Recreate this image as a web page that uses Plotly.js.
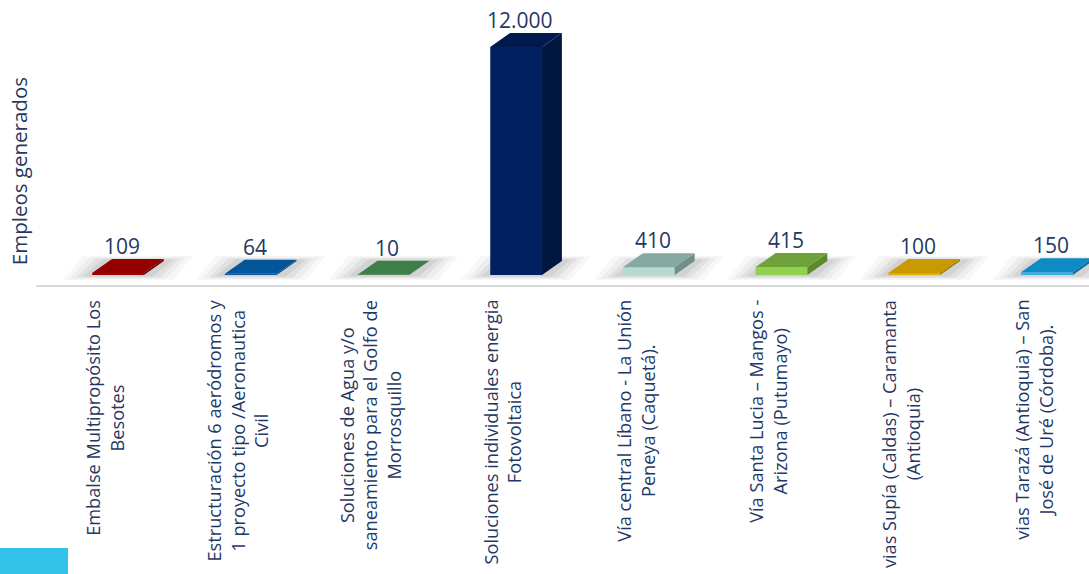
<!DOCTYPE html>
<html>
<head>
<meta charset="utf-8">
<script src="https://cdn.plot.ly/plotly-3.0.1.min.js"></script>
<style>html,body{margin:0;padding:0;background:#fff;}#chart{width:1089px;height:574px;}</style>
</head>
<body>
<div id="chart"></div>
<script>
// ---- data ----
const categories = [
  "Embalse Multipropósito Los<br>Besotes",
  "Estructuración 6 aeródromos y<br>1 proyecto tipo /Aeronautica<br>Civil",
  "Soluciones de Agua y/o<br>saneamiento para el Golfo de<br>Morrosquillo",
  "Soluciones individuales energia<br>Fotovoltaica",
  "Vía central Líbano - La Unión<br>Peneya (Caquetá).",
  "Vía Santa Lucia – Mangos -<br>Arizona (Putumayo)",
  "vias Supía (Caldas) – Caramanta<br>(Antioquia)",
  "vias Tarazá (Antioquia) – San<br>José de Uré (Córdoba)."
];
const empleos = [109, 64, 10, 12000, 410, 415, 100, 150];
const valueLabels = ["109", "64", "10", "12.000", "410", "415", "100", "150"];
const yTitle = "Empleos generados";

// ---- styles ----
const frontColors = ["#a30000", "#0a5ba3", "#46884f", "#002060", "#b6dad3", "#92d050", "#e2ad0c", "#38b0e6"];
const topColors   = ["#940000", "#03559a", "#3e7e48", "#001a50", "#87a89f", "#6fa23a", "#c99a00", "#0e8ac4"];
const sideColors  = ["#700000", "#034070", "#2f6036", "#00173f", "#6f8f88", "#5b8a2c", "#a07a00", "#0a6c9a"];
const textColor = "#1f3864";
const FONT = "Open Sans, DejaVu Sans, sans-serif";

const W = 0.39;     // bar front width (category units)
const DX = 0.15;    // depth offset x (category units)
const DY = 737;     // depth offset y (data units)
const XR = [-0.618, 7.317];
const YR = [-526, 14474];

const xs = categories.map((_, i) => i);
const traces = [];

// soft floor shadows (decorative, layered) on the base axes, below the bars
const shadowLayers = [
  {ex: 0.22, ey: 260, a: 0.03},
  {ex: 0.17, ey: 200, a: 0.04},
  {ex: 0.12, ey: 140, a: 0.05},
  {ex: 0.07, ey: 80, a: 0.06}
];
xs.forEach(i => {
  shadowLayers.forEach(s => {
    const l = i - W / 2 - s.ex, r = i + W / 2 + s.ex;
    traces.push({
      type: 'scatter', mode: 'lines', fill: 'toself', xaxis: 'x', yaxis: 'y',
      x: [l, l + DX, r + DX, r, l], y: [-s.ey, DY + s.ey, DY + s.ey, -s.ey, -s.ey],
      fillcolor: 'rgba(0,0,0,' + s.a + ')', line: {width: 0, color: 'rgba(0,0,0,0)'},
      hoverinfo: 'skip', showlegend: false
    });
  });
});

// front faces (overlay axes, drawn above the shadows)
traces.push({
  type: 'bar', x: xs, y: empleos, width: W, xaxis: 'x2', yaxis: 'y2',
  marker: {color: frontColors, line: {width: 0}},
  hoverinfo: 'skip', showlegend: false
});

// side + top faces computed from data
empleos.forEach((v, i) => {
  const l = i - W / 2, r = i + W / 2;
  traces.push({
    type: 'scatter', mode: 'lines', fill: 'toself', xaxis: 'x2', yaxis: 'y2',
    x: [r, r, r + DX, r + DX, r], y: [0, v, v + DY, DY, 0],
    fillcolor: sideColors[i], line: {width: 0, color: sideColors[i]},
    hoverinfo: 'skip', showlegend: false
  });
  traces.push({
    type: 'scatter', mode: 'lines', fill: 'toself', xaxis: 'x2', yaxis: 'y2',
    x: [l, l + DX, r + DX, r, l], y: [v, v + DY, v + DY, v, v],
    fillcolor: topColors[i], line: {width: 0, color: topColors[i]},
    hoverinfo: 'skip', showlegend: false
  });
});

const annotations = [];
empleos.forEach((v, i) => {
  annotations.push({
    x: i, y: v + DY, xref: 'x2', yref: 'y2', text: valueLabels[i],
    showarrow: false, xanchor: 'center', yanchor: 'bottom', xshift: 4, yshift: -3,
    font: {family: FONT, size: 21, color: textColor}
  });
  annotations.push({
    x: i, y: -0.045, xref: 'x2', yref: 'paper', text: categories[i],
    showarrow: false, textangle: -90, xanchor: 'center', yanchor: 'top', align: 'center',
    xshift: -13,
    font: {family: FONT, size: 18.2, color: textColor}
  });
});
annotations.push({
  x: -0.016, y: 0.40, xref: 'paper', yref: 'paper', text: yTitle,
  showarrow: false, textangle: -90, xanchor: 'center', yanchor: 'middle',
  font: {family: FONT, size: 20.5, color: textColor}
});

const hiddenAxis = {showticklabels: false, showgrid: false, zeroline: false, showline: false, fixedrange: true};

const layout = {
  width: 1089, height: 574,
  margin: {l: 36, r: 0, t: 0, b: 289},
  paper_bgcolor: '#ffffff', plot_bgcolor: '#ffffff',
  xaxis: Object.assign({}, hiddenAxis, {range: XR, showline: true, linecolor: '#d9d9d9', linewidth: 2}),
  yaxis: Object.assign({}, hiddenAxis, {range: YR}),
  xaxis2: Object.assign({}, hiddenAxis, {range: XR, overlaying: 'x'}),
  yaxis2: Object.assign({}, hiddenAxis, {range: YR, overlaying: 'y'}),
  annotations: annotations,
  shapes: [{type: 'rect', xref: 'paper', yref: 'paper', x0: -36/1053, x1: 32/1053,
            y0: -289/285, y1: -263/285, fillcolor: '#33c3ea', line: {width: 0}, layer: 'above'}],
  showlegend: false
};

Plotly.newPlot('chart', traces, layout, {displayModeBar: false, staticPlot: true});
</script>
</body>
</html>
